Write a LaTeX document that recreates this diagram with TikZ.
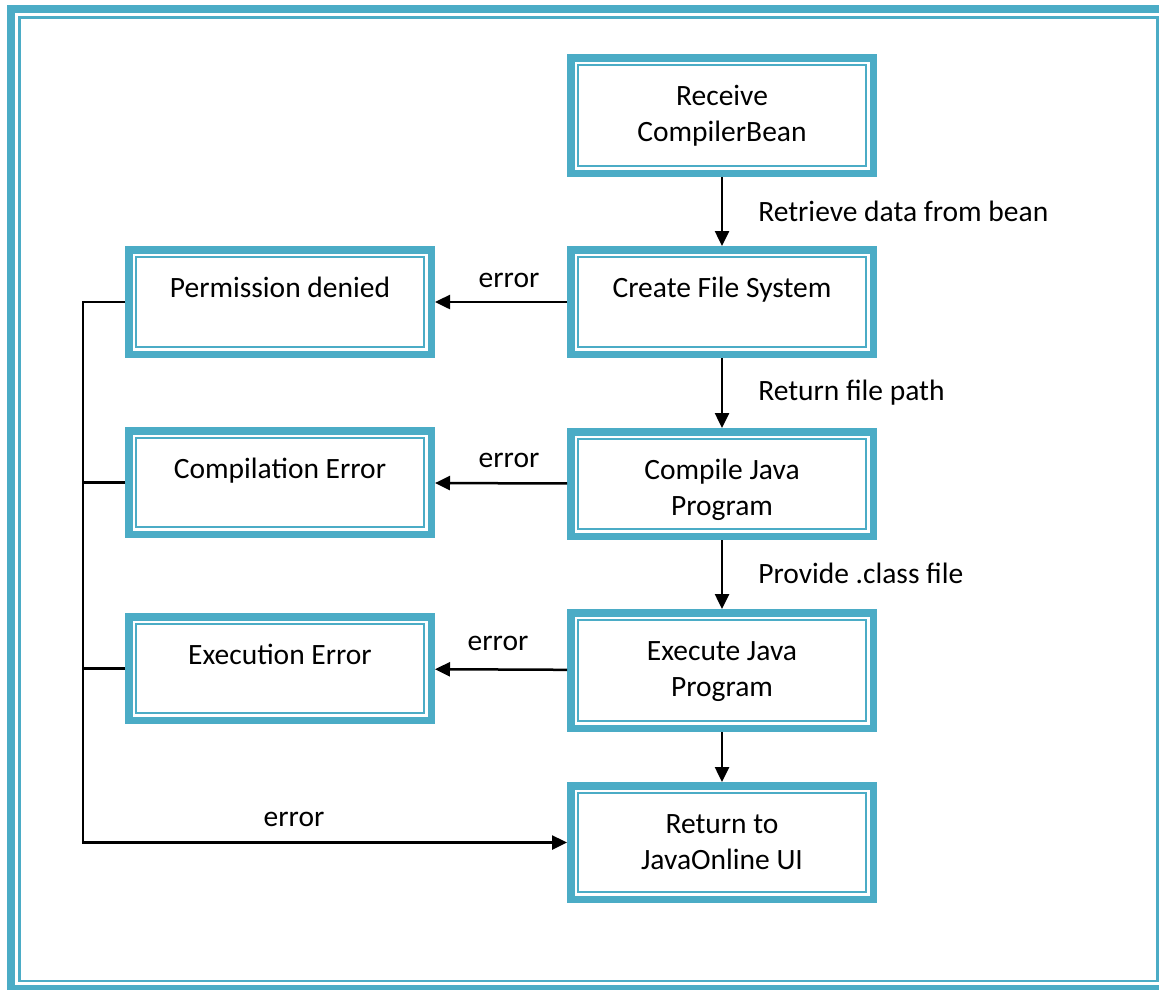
\documentclass[tikz,border=0pt]{standalone}
\usepackage{fontspec}
\setmainfont{Carlito}
\usetikzlibrary{arrows.meta,calc}
\definecolor{frameblue}{HTML}{4BACC6}
\tikzset{
  boxst/.style={draw=frameblue, line width=7.5pt, outer sep=3.75pt, inner sep=0pt,
    minimum width=302.5pt, fill=white},
  thinframe/.style={draw=frameblue, line width=2.5pt},
  txt/.style={font=\fontsize{29.5}{36}\selectfont, align=center, inner sep=0pt, anchor=north},
  lbl/.style={font=\fontsize{29.5}{36}\selectfont, inner sep=0pt},
  ln/.style={draw=black, line width=2.5pt},
  arr/.style={ln, -{Triangle[length=15pt,width=14pt]}},
}
\newcommand\inframe[1]{\draw[thinframe] ([xshift=11pt,yshift=-11pt]#1.north west) rectangle ([xshift=-11pt,yshift=11pt]#1.south east);}
\begin{document}
\begin{tikzpicture}[x=1pt,y=-1pt]
\useasboundingbox (0,0) rectangle (1159,989);
\clip (0,0) rectangle (1159,989);
% outer frame
\draw[draw=frameblue, line width=8pt] (11,9) rectangle (1165,989);
\draw[draw=frameblue, line width=2.8pt] (19.5,17.5) rectangle (1157.7,981);
% right column boxes
\node[boxst, minimum height=115.5pt] (recv) at (722,115.5) {};
\node[boxst, minimum height=104.5pt] (create) at (722,302) {};
\node[boxst, minimum height=104.5pt] (compile) at (722,484) {};
\node[boxst, minimum height=115.5pt] (exec) at (722,670.5) {};
\node[boxst, minimum height=113.5pt] (ret) at (722,842.5) {};
% left column boxes
\node[boxst, minimum height=104.5pt] (perm) at (280,302) {};
\node[boxst, minimum height=103.5pt] (comperr) at (280,482.5) {};
\node[boxst, minimum height=103.5pt] (execerr) at (280,668.5) {};
\foreach \b in {recv,create,compile,exec,ret,perm,comperr,execerr} {\inframe{\b}}
% texts
\node[txt] (recvt) at ([yshift=-25.8pt]recv.north) {\strut Receive\\CompilerBean};
\node[txt] (createt) at ([yshift=-25.8pt]create.north) {\strut Create File System};
\node[txt] (compilet) at ([yshift=-25.8pt]compile.north) {\strut Compile Java\\Program};
\node[txt] (exect) at ([yshift=-25.8pt]exec.north) {\strut Execute Java\\Program};
\node[txt] (rett) at ([yshift=-25.8pt]ret.north) {\strut Return to\\JavaOnline UI};
\node[txt] (permt) at ([yshift=-25.8pt]perm.north) {\strut Permission denied};
\node[txt] (comperrt) at ([yshift=-25.8pt]comperr.north) {\strut Compilation Error};
\node[txt] (execerrt) at ([yshift=-25.8pt]execerr.north) {\strut Execution Error};
% vertical flow
\draw[arr] (recv) -- node[lbl, anchor=base west, xshift=35pt, yshift=-9.5pt] (l1) {Retrieve data from bean} (create);
\draw[arr] (create) -- node[lbl, anchor=base west, xshift=35pt, yshift=-7pt] (l2) {Return file path} (compile);
\draw[arr] (compile) -- node[lbl, anchor=base west, xshift=35pt, yshift=-8.5pt] (l3) {Provide .class file} (exec);
\draw[arr] (exec) -- (ret);
% error arrows
\draw[arr] (create) -- node[lbl, anchor=base, xshift=8pt, yshift=15pt] (e1) {error} (perm);
\draw[arr] (compile) -- node[lbl, anchor=base, xshift=8pt, yshift=16pt] (e2) {error} (comperr);
\draw[arr] (exec) -- node[lbl, anchor=base, xshift=-3pt, yshift=19pt] (e3) {error} (execerr);
% error bus
\coordinate (bus) at (83,0);
\draw[ln] (comperr.west) -- (comperr.west -| bus);
\draw[ln] (execerr.west) -- (execerr.west -| bus);
\draw[arr] (perm.west) -- (perm.west -| bus) |- node[lbl, anchor=base, pos=0.75, xshift=-31pt, yshift=16pt] (e4) {error} (ret.west);
\end{tikzpicture}
\end{document}
